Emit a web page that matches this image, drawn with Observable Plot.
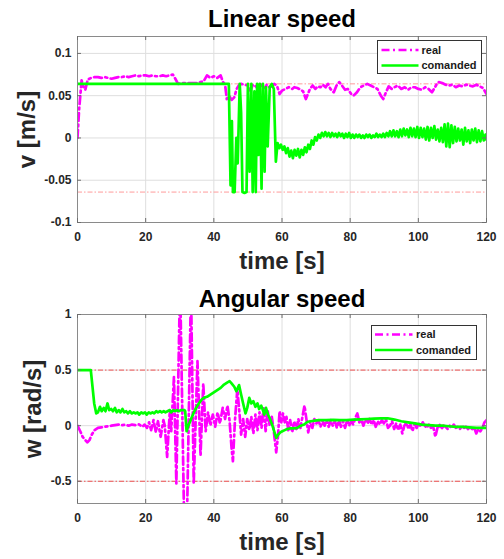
<!DOCTYPE html>
<html><head><meta charset="utf-8">
<script src="https://cdn.jsdelivr.net/npm/d3@7"></script>
<script src="https://cdn.jsdelivr.net/npm/@observablehq/plot@0.6"></script>
<style>
html,body{margin:0;padding:0;background:#fff;}
#chart{width:504px;}
svg{display:block;}
</style></head><body><div id="chart"></div>
<script>
// ---------- data ----------
const timeTicks = [0, 20, 40, 60, 80, 100, 120];
const vTicks = [-0.1, -0.05, 0, 0.05, 0.1];
const wTicks = [-0.5, 0, 0.5, 1];
const vLimits = [0.064, -0.064];
const wLimits = [0.5, -0.5];
const seriesNames = ["real", "comanded"];

// Linear speed, real [t, v]
const vReal = [[0,0],[0.5,0.035],[1.2,0.068],[1.8,0.06],[2.3,0.057],[3.0,0.069],[4,0.071],[5,0.072],[6,0.072],[7,0.071],[8,0.072],[9,0.071],[10,0.070],[11,0.071],[12,0.072],[13,0.072],[14,0.073],[15,0.072],[16,0.073],[17,0.074],[18,0.073],[19,0.074],[20,0.074],[21,0.073],[22,0.074],[23,0.073],[24,0.073],[25,0.074],[26,0.073],[27,0.074],[28,0.075],[28.7,0.070],[29.5,0.064],[31,0.065],[33,0.065],[35,0.065],[36,0.066],[37,0.067],[38,0.074],[39,0.071],[40,0.073],[41,0.071],[42,0.074],[42.7,0.066],[43.3,0.063],[43.8,0.046],[44.5,0.050],[45.2,0.045],[46,0.048],[46.7,0.058],[47.3,0.062],[48,0.064],[49,0.063],[50,0.062],[50.7,0.056],[51.5,0.063],[52.3,0.061],[53,0.058],[54,0.063],[55,0.058],[55.5,0.063],[56.3,0.060],[57,0.061],[57.7,0.064],[58.5,0.062],[59.3,0.052],[60,0.056],[61,0.058],[62,0.060],[63,0.058],[63.6,0.060],[64.5,0.059],[65.5,0.057],[66.2,0.055],[67,0.046],[67.6,0.052],[68.2,0.058],[69,0.062],[69.8,0.058],[70.5,0.061],[71.3,0.060],[72,0.063],[72.8,0.060],[73.5,0.064],[74.2,0.058],[75.2,0.054],[76,0.062],[76.8,0.066],[77.6,0.062],[78.5,0.057],[79.3,0.058],[80.3,0.052],[81,0.050],[82,0.054],[83,0.060],[84,0.062],[85,0.064],[86,0.062],[87,0.060],[88,0.058],[89,0.050],[89.7,0.046],[90.5,0.054],[91.3,0.061],[92.2,0.058],[93,0.060],[94,0.062],[95,0.058],[96,0.060],[97,0.057],[98,0.060],[99,0.060],[100,0.058],[101,0.057],[102,0.060],[103,0.058],[104,0.054],[104.6,0.058],[105.3,0.063],[106,0.066],[107,0.065],[108,0.063],[109,0.062],[110,0.063],[111,0.060],[112,0.062],[113,0.061],[114,0.063],[115,0.062],[116,0.061],[117,0.063],[118,0.061],[119,0.059],[120,0.052]];

// Linear speed, comanded [t, v]
const vCmd = [[0,0.064],[44.4,0.064],[44.9,-0.056],[45.3,0.02],[45.6,-0.064],[46.1,-0.064],[46.6,0.0],[47.0,-0.03],[47.6,0.064],[48.0,0.03],[48.4,-0.064],[49.0,-0.065],[49.6,-0.064],[50.0,0.064],[50.5,-0.04],[51.0,0.064],[51.4,-0.064],[51.9,0.055],[52.3,-0.064],[52.7,0.064],[53.1,-0.02],[53.5,0.064],[54.0,-0.06],[54.4,0.064],[54.9,-0.04],[55.3,0.06],[55.8,-0.01],[56.4,0.06],[57.0,0.064],[57.6,0.058],[58.2,-0.028],[58.7,-0.006],[59.2,-0.012],[59.7,-0.008],[60.2,-0.014],[60.7,-0.010],[61.2,-0.018],[61.7,-0.012],[62.2,-0.022],[62.7,-0.015],[63.2,-0.024],[63.7,-0.014],[64.2,-0.021],[64.7,-0.013],[65.2,-0.023],[65.7,-0.014],[66.2,-0.020],[66.7,-0.011],[67.2,-0.017],[67.7,-0.008],[68.2,-0.013],[68.7,-0.003],[69.2,-0.008],[69.7,0.001],[70.2,-0.003],[70.7,0.004],[71.2,0.000],[71.7,0.006],[72.2,0.002],[72.7,0.007],[73.2,0.002],[73.7,0.006],[74.2,0.001],[74.7,0.006],[75.2,0.002],[75.7,0.005],[76.2,0.001],[76.7,0.006],[77.2,0.002],[77.7,0.005],[78.2,0.000],[78.7,0.005],[79.2,0.001],[79.7,0.006],[80.2,0.000],[80.7,0.004],[81.2,0.000],[81.7,0.004],[82.2,0.001],[82.7,0.004],[83.2,0.000],[83.7,0.003],[84.2,0.000],[84.7,0.004],[85.2,0.001],[85.7,0.004],[86.2,0.000],[86.7,0.003],[87.2,0.001],[87.7,0.005],[88.2,0.001],[88.7,0.004],[89.2,0.001],[89.7,0.005],[90.2,0.001],[90.7,0.006],[91.2,0.002],[91.7,0.008],[92.2,0.002],[92.7,0.009],[93.2,0.002],[93.7,0.008],[94.2,0.001],[94.7,0.010],[95.2,0.002],[95.7,0.011],[96.2,0.003],[96.7,0.010],[97.2,0.001],[97.7,0.012],[98.2,0.002],[98.7,0.011],[99.2,0.001],[99.7,0.013],[100.2,0.000],[100.7,0.012],[101.2,0.001],[101.7,0.011],[102.2,-0.002],[102.7,0.013],[103.2,-0.003],[103.7,0.012],[104.2,0.000],[104.7,0.014],[105.2,-0.002],[105.7,0.010],[106.2,-0.004],[106.7,0.012],[107.2,-0.005],[107.7,0.016],[108.2,-0.010],[108.7,0.017],[109.2,-0.011],[109.7,0.015],[110.2,-0.006],[110.7,0.013],[111.2,-0.004],[111.7,0.011],[112.2,-0.003],[112.7,0.010],[113.2,-0.008],[113.7,0.012],[114.2,-0.004],[114.7,0.009],[115.2,-0.006],[115.7,0.010],[116.2,-0.003],[116.7,0.011],[117.2,-0.005],[117.7,0.009],[118.2,-0.004],[118.7,0.008],[119.2,-0.003],[119.7,0.004],[120,-0.002]];

// Angular speed, real [t, w]
const wReal = [[0,0],[0.8,-0.05],[1.5,-0.1],[2.3,-0.13],[2.9,-0.15],[3.5,-0.13],[4.2,-0.08],[5,-0.04],[6,-0.02],[7,-0.015],[8,-0.01],[9,-0.005],[10,0],[11,0.005],[12,0.01],[13,0.005],[14,0.008],[15,0.0],[16,0.01],[17,0.005],[18,0.012],[19,-0.01],[19.7,0.01],[20.4,-0.02],[21.0,0.03],[21.6,-0.04],[22.3,0.05],[23.0,-0.06],[23.6,0.04],[24.4,-0.1],[25.2,0.05],[25.6,0.0],[26.3,-0.28],[27.1,0.14],[27.5,-0.05],[28.3,0.44],[29.0,-0.52],[30.1,1.3],[31.7,-1.6],[33.3,1.25],[34.1,-0.52],[35.2,0.58],[36.1,-0.27],[36.9,0.38],[37.6,-0.05],[38.3,0.12],[39.0,0.0],[39.7,0.1],[40.4,-0.01],[41.1,0.12],[41.8,0.02],[42.6,0.16],[43.3,0.06],[44.0,0.18],[44.6,0.05],[45.2,-0.2],[45.6,-0.32],[46.2,0.05],[46.9,0.33],[47.5,0.12],[48.0,-0.08],[48.6,0.06],[49.2,-0.1],[49.8,0.06],[50.4,-0.04],[51.0,0.08],[51.6,-0.07],[52.2,0.1],[52.8,-0.04],[53.4,0.12],[54.0,-0.02],[54.6,0.17],[55.2,-0.05],[55.8,0.14],[56.4,0.0],[57.0,0.08],[57.6,-0.05],[58.3,-0.24],[58.8,-0.1],[59.3,0.13],[59.8,0.03],[60.3,0.11],[60.8,0.03],[61.3,0.08],[61.9,-0.05],[62.4,0.05],[63.0,-0.06],[63.6,0.04],[64.2,-0.03],[64.8,0.06],[65.4,-0.02],[66.0,0.08],[66.6,0.18],[67.2,0.05],[67.7,-0.06],[68.3,0.04],[68.9,-0.02],[69.5,0.06],[70.1,0.02],[70.7,0.05],[71.3,-0.01],[71.9,0.04],[72.5,0.0],[73.1,0.05],[73.7,-0.01],[74.3,0.05],[74.9,0.0],[75.5,0.04],[76.1,-0.02],[76.7,0.05],[77.3,-0.01],[77.9,0.04],[78.5,-0.02],[79.1,0.05],[79.7,0.0],[80.3,0.04],[80.9,0.01],[81.5,0.07],[82.1,0.11],[82.7,0.03],[83.3,0.05],[83.9,0.0],[84.5,0.06],[85.1,0.02],[85.7,0.06],[86.3,0.01],[86.9,0.05],[87.5,-0.01],[88.1,0.04],[88.7,0.01],[89.3,0.05],[89.9,0.02],[90.5,0.06],[91.1,-0.02],[91.7,0.0],[92.3,0.04],[92.9,-0.03],[93.5,0.02],[94.1,-0.04],[94.7,0.01],[95.3,-0.07],[95.9,0.0],[96.5,0.03],[97.1,-0.03],[97.7,0.01],[98.3,-0.05],[98.9,0.02],[99.5,-0.02],[100.1,0.02],[100.7,-0.01],[101.3,0.03],[101.9,0.0],[102.5,-0.02],[103.1,0.01],[103.7,-0.02],[104.3,0.0],[105.0,-0.1],[105.6,-0.02],[106.2,0.01],[106.8,-0.03],[107.4,0.0],[108.0,-0.01],[108.6,-0.03],[109.2,0.0],[109.8,-0.02],[110.4,0.01],[111.0,-0.02],[111.6,-0.01],[112.2,-0.03],[112.8,0.0],[113.4,-0.02],[114.0,-0.01],[114.6,-0.03],[115.2,-0.01],[115.8,-0.03],[116.4,-0.02],[117.0,-0.07],[117.6,-0.03],[118.2,-0.05],[118.8,-0.02],[119.4,0.03],[120,0.05]];

// Angular speed, comanded [t, w]
const wCmd = [[0,0.5],[3.9,0.5],[4.3,0.38],[4.9,0.2],[5.5,0.11],[6.0,0.12],[6.6,0.17],[7.1,0.13],[7.7,0.16],[8.2,0.13],[8.8,0.2],[9.3,0.14],[9.9,0.15],[10.4,0.13],[11.0,0.16],[11.5,0.12],[12.1,0.14],[12.6,0.12],[13.2,0.15],[13.7,0.12],[14.3,0.13],[14.8,0.11],[15.4,0.13],[15.9,0.11],[16.5,0.12],[17.0,0.11],[17.6,0.12],[18.1,0.1],[18.7,0.12],[19.2,0.11],[19.8,0.12],[20.3,0.1],[20.9,0.12],[21.4,0.11],[22.0,0.12],[22.5,0.11],[23.1,0.13],[23.6,0.12],[24.2,0.13],[24.7,0.12],[25.3,0.13],[25.8,0.12],[26.4,0.13],[27.0,0.14],[27.5,0.12],[28.1,0.14],[28.6,0.13],[29.2,0.14],[29.7,0.13],[30.3,0.14],[30.8,0.14],[31.4,0.14],[31.6,0.13],[32.0,-0.05],[32.5,0.0],[33.2,0.05],[34.0,0.11],[34.8,0.16],[35.6,0.2],[36.3,0.23],[37.0,0.25],[38,0.26],[39,0.28],[40,0.3],[41,0.32],[42,0.34],[43,0.37],[44,0.39],[44.6,0.4],[45.2,0.38],[46.0,0.35],[46.6,0.31],[47.4,0.365],[48.0,0.28],[48.6,0.2],[49.3,0.11],[49.8,0.16],[50.4,0.25],[51.0,0.2],[51.6,0.22],[52.2,0.17],[52.8,0.2],[53.3,0.15],[53.9,0.18],[54.4,0.14],[54.8,0.1],[55.3,0.16],[55.9,0.1],[56.5,0.06],[57.2,0.0],[57.8,-0.06],[58.3,-0.11],[58.9,-0.08],[59.5,-0.06],[60.1,-0.05],[60.8,-0.04],[61.5,-0.03],[62.5,-0.025],[63.5,-0.025],[64.5,-0.02],[65.5,0.0],[66.5,0.01],[67.5,0.035],[68.5,0.04],[69.5,0.045],[71,0.05],[73,0.05],[75,0.052],[77,0.05],[79,0.05],[81,0.055],[83,0.057],[85,0.06],[87,0.064],[89,0.066],[91,0.067],[93,0.055],[95,0.04],[97,0.03],[99,0.02],[101,0.01],[103,0.005],[105,0.0],[107,0.0],[109,-0.005],[111,-0.01],[113,-0.01],[115,-0.015],[117,-0.02],[119,-0.02],[120,-0.02]];

// ---------- drawing ----------
const FONT = "'Liberation Sans', Arial, Helvetica, sans-serif";
const toRows = arr => arr.map(([t, v]) => ({t, v}));
const REAL_DASH = "8,3.5,2,3.5";

function panel(o) {
  const W = 504, mL = 77, mR = 18;
  const plotH = o.height - o.marginTop - o.marginBottom;
  const plotW = W - mL - mR;
  const tickCol = "#6e6e6e";
  const svg = Plot.plot({
    width: W, height: o.height,
    marginLeft: mL, marginRight: mR, marginTop: o.marginTop, marginBottom: o.marginBottom,
    style: {fontFamily: FONT, background: "white", overflow: "visible"},
    x: {domain: [0, 120], axis: null},
    y: {domain: o.yDomain, axis: null},
    marks: [
      Plot.gridX(timeTicks, {stroke: "#dedede", strokeOpacity: 1}),
      Plot.gridY(o.yTicks, {stroke: "#dedede", strokeOpacity: 1}),
      Plot.ruleY(o.limits, {stroke: o.limitColor, strokeWidth: 1, strokeDasharray: "5,2,1.5,2"}),
      Plot.line(toRows(o.real), {x: "t", y: "v", stroke: "#ff00ff", strokeWidth: 2.7, strokeDasharray: REAL_DASH, clip: true}),
      Plot.line(toRows(o.cmd), {x: "t", y: "v", stroke: "#00ff00", strokeWidth: 2.7, clip: true}),
      Plot.frame({stroke: "#8a8a8a", strokeWidth: 1}),
      Plot.tickX(timeTicks, {x: d => d, insetTop: plotH - 4, stroke: tickCol}),
      Plot.tickX(timeTicks, {x: d => d, insetBottom: plotH - 4, stroke: tickCol}),
      Plot.tickY(o.yTicks, {y: d => d, insetRight: plotW - 4, stroke: tickCol}),
      Plot.tickY(o.yTicks, {y: d => d, insetLeft: plotW - 4, stroke: tickCol}),
      Plot.axisX(timeTicks, {anchor: "bottom", tickSize: 0, tickPadding: 10, fontSize: 12, fontWeight: "bold", color: "#262626", label: null}),
      Plot.axisY(o.yTicks, {anchor: "left", tickSize: 0, tickPadding: 6, fontSize: 12, fontWeight: "bold", color: "#262626", label: null, tickFormat: d => String(d)}),
      Plot.text([o.title], {frameAnchor: "top", lineAnchor: "bottom", dy: o.titleDy, fontSize: 24, fontWeight: "bold", fill: "black"}),
      Plot.text(["time [s]"], {frameAnchor: "bottom", lineAnchor: "bottom", dy: 46, fontSize: 24, fontWeight: "bold", fill: "#262626"}),
      Plot.text([o.yLabel], {frameAnchor: "left", rotate: -90, lineAnchor: "middle", textAnchor: "middle", dx: o.yLabelDx, fontSize: 24, fontWeight: "bold", fill: "#262626"})
    ]
  });
  // legend box
  const L = o.legend;
  const g = d3.select(svg).append("g").attr("font-family", FONT).attr("text-anchor", "start");
  g.append("rect").attr("x", L.x).attr("y", L.y).attr("width", L.w).attr("height", L.h)
    .attr("fill", "white").attr("stroke", "#333").attr("stroke-width", 1);
  const styles = [
    {stroke: "#ff00ff", dash: REAL_DASH},
    {stroke: "#00ff00", dash: null}
  ];
  seriesNames.forEach((name, i) => {
    const yy = L.rowY[i];
    g.append("line").attr("x1", L.lx1).attr("x2", L.lx2).attr("y1", yy).attr("y2", yy)
      .attr("stroke", styles[i].stroke).attr("stroke-width", 2.7)
      .attr("stroke-dasharray", styles[i].dash);
    g.append("text").attr("x", L.tx).attr("y", yy).attr("dy", "0.35em").attr("text-anchor", "start")
      .attr("font-size", 11).attr("font-weight", "bold").attr("fill", "#1a1a1a").text(name);
  });
  return svg;
}

const root = document.getElementById("chart");
root.appendChild(panel({
  title: "Linear speed", yLabel: "v [m/s]", height: 280, marginTop: 36, marginBottom: 58,
  yDomain: [-0.1, 0.12], yTicks: vTicks, limits: vLimits, limitColor: "#ff9a9a",
  real: vReal, cmd: vCmd, titleDy: -10, yLabelDx: -50,
  legend: {x: 377.5, y: 40.5, w: 104, h: 33, lx1: 381.5, lx2: 418.5, tx: 421.5, rowY: [50, 65.5]}
}));
root.appendChild(panel({
  title: "Angular speed", yLabel: "w [rad/s]", height: 279, marginTop: 34, marginBottom: 56,
  yDomain: [-0.7, 1], yTicks: wTicks, limits: wLimits, limitColor: "#f05050",
  real: wReal, cmd: wCmd, titleDy: -8, yLabelDx: -44,
  legend: {x: 371.5, y: 45.5, w: 105, h: 34, lx1: 375, lx2: 412.5, tx: 416, rowY: [54.5, 70]}
}));
</script></body></html>
